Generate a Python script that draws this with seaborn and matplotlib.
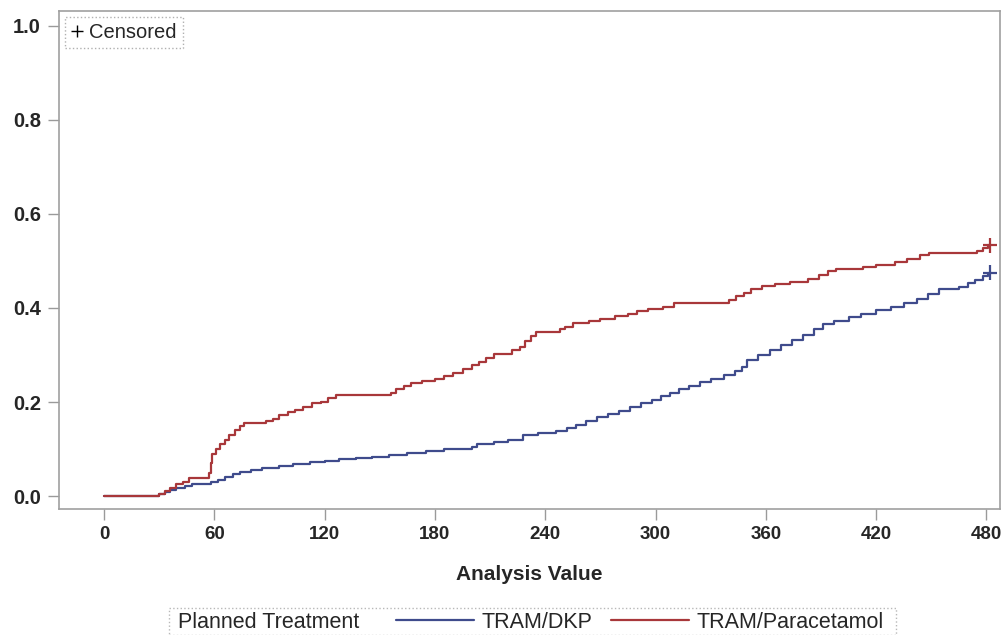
import pandas as pd
import matplotlib
matplotlib.use("Agg")
import matplotlib.pyplot as plt
import seaborn as sns
from matplotlib.lines import Line2D
from matplotlib.patches import Rectangle

# Kaplan-Meier style step data
dkp_time = [0, 30, 33, 36, 39, 44, 48, 58, 62, 66, 70, 74, 80, 86, 95, 103, 112, 120,
            128, 137, 146, 155, 165, 175, 185, 200, 203, 212, 220, 228, 236, 246, 252,
            257, 262, 268, 274, 280, 286, 292, 298, 303, 308, 313, 318, 324, 330, 337,
            343, 347, 350, 356, 362, 368, 374, 380, 386, 391, 397, 405, 412, 420, 428,
            435, 442, 448, 454, 465, 470, 474, 478, 481]
dkp_value = [0, 0.004, 0.008, 0.013, 0.017, 0.021, 0.025, 0.030, 0.035, 0.040, 0.046,
             0.052, 0.055, 0.060, 0.064, 0.068, 0.072, 0.075, 0.078, 0.081, 0.084, 0.088,
             0.092, 0.096, 0.100, 0.104, 0.110, 0.114, 0.119, 0.130, 0.135, 0.138, 0.145,
             0.152, 0.160, 0.168, 0.174, 0.182, 0.190, 0.197, 0.205, 0.213, 0.220, 0.228,
             0.235, 0.243, 0.250, 0.258, 0.265, 0.275, 0.290, 0.300, 0.310, 0.322, 0.332,
             0.343, 0.355, 0.365, 0.372, 0.380, 0.387, 0.395, 0.402, 0.410, 0.420, 0.430,
             0.440, 0.445, 0.453, 0.460, 0.467, 0.475]

para_time = [0, 30, 33, 36, 39, 43, 46, 57, 58, 59, 61, 63, 66, 68, 71, 74, 76, 88, 92,
             95, 100, 104, 108, 113, 118, 122, 126, 156, 159, 163, 167, 173, 180, 185,
             190, 195, 200, 204, 208, 212, 222, 226, 229, 232, 235, 248, 251, 255, 264,
             270, 278, 285, 290, 296, 304, 310, 340, 344, 348, 352, 358, 365, 373, 383,
             389, 394, 398, 413, 420, 430, 437, 444, 449, 475, 478, 481]
para_value = [0, 0.005, 0.010, 0.018, 0.025, 0.030, 0.039, 0.050, 0.070, 0.090, 0.100,
              0.110, 0.120, 0.130, 0.140, 0.150, 0.155, 0.160, 0.165, 0.172, 0.178, 0.183,
              0.190, 0.197, 0.200, 0.208, 0.215, 0.220, 0.227, 0.235, 0.240, 0.245, 0.250,
              0.255, 0.262, 0.270, 0.278, 0.285, 0.293, 0.302, 0.310, 0.318, 0.330, 0.340,
              0.348, 0.355, 0.360, 0.368, 0.372, 0.377, 0.383, 0.388, 0.393, 0.397, 0.402,
              0.410, 0.418, 0.425, 0.432, 0.440, 0.447, 0.452, 0.456, 0.462, 0.470, 0.478,
              0.483, 0.488, 0.492, 0.498, 0.505, 0.512, 0.517, 0.522, 0.528, 0.533]

groups = ["TRAM/DKP", "TRAM/Paracetamol"]
censor_time = [482, 482]
censor_value = [0.475, 0.533]

x_ticks = [0, 60, 120, 180, 240, 300, 360, 420, 480]
y_ticks = [0.0, 0.2, 0.4, 0.6, 0.8, 1.0]

colors = {"TRAM/DKP": "#3f4b8c", "TRAM/Paracetamol": "#a8373a"}

df = pd.concat([
    pd.DataFrame({"time": dkp_time, "value": dkp_value, "Planned Treatment": groups[0]}),
    pd.DataFrame({"time": para_time, "value": para_value, "Planned Treatment": groups[1]}),
])
censored = pd.DataFrame({"time": censor_time, "value": censor_value, "Planned Treatment": groups})

sns.set_style("white")
plt.rcParams["font.family"] = ["Liberation Sans", "DejaVu Sans"]

fig = plt.figure(figsize=(10.08, 6.35), dpi=100)
ax = fig.add_axes([0.0585, 0.198, 0.934, 0.785])

sns.lineplot(data=df, x="time", y="value", hue="Planned Treatment", palette=colors,
             drawstyle="steps-post", estimator=None, sort=False, linewidth=1.6,
             legend=False, ax=ax)
sns.scatterplot(data=censored, x="time", y="value", hue="Planned Treatment", palette=colors,
                marker="+", s=110, linewidth=1.6, legend=False, ax=ax, zorder=5)

ax.set_xlim(-24.5, 487.6)
ax.set_ylim(-0.028, 1.032)
ax.set_xticks(x_ticks)
ax.set_yticks(y_ticks)
ax.set_yticklabels([f"{v:.1f}" for v in y_ticks])
ax.tick_params(axis="both", which="major", direction="out", length=8, width=1,
               color="#9a9a9a", bottom=True, left=True, pad=5)
ax.tick_params(axis="x", labelsize=13.5, pad=4)
ax.tick_params(axis="y", labelsize=14.5, pad=5)
for lab in ax.get_xticklabels() + ax.get_yticklabels():
    lab.set_fontweight("bold")
ax.set_xlabel("Analysis Value", fontsize=15, fontweight="bold", labelpad=16)
ax.set_ylabel("")
for sp in ax.spines.values():
    sp.set_color("#a0a0a0")
    sp.set_linewidth(1.2)

# censored legend in the corner
cens_handle = Line2D([], [], color="black", marker="+", linestyle="none", markersize=8)
leg = ax.legend([cens_handle], ["Censored"], loc="upper left", fontsize=14.5,
                handlelength=0.6, handletextpad=0.3, borderpad=0.3, borderaxespad=0.3,
                bbox_to_anchor=(0.0, 1.0), fancybox=False, framealpha=1)
leg.get_frame().set_edgecolor("#b0b0b0")
leg.get_frame().set_linestyle(":")
leg.get_frame().set_linewidth(1.0)

# bottom legend
fig.add_artist(Rectangle((169 / 1008, 0.0), (896 - 169) / 1008, (635 - 608) / 635,
                         transform=fig.transFigure, fill=False, edgecolor="#b8b8b8",
                         linewidth=1.0, linestyle=":"))
fig.text(178 / 1008, (635 - 622) / 635, "Planned Treatment", fontsize=15.5,
         ha="left", va="center")
line_handles = [Line2D([], [], color=colors[g], linewidth=1.6) for g in groups]
fig.legend(line_handles, groups, loc="center left", ncol=2, frameon=False, fontsize=15.5,
           bbox_to_anchor=(396 / 1008, (635 - 622) / 635), handlelength=3.6,
           handletextpad=0.35, columnspacing=0.9, borderpad=0, borderaxespad=0)

fig.savefig("out.png", dpi=100)
